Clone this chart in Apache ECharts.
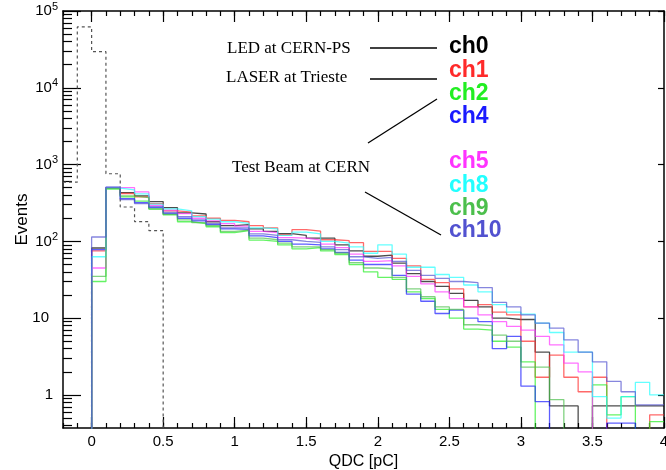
<!DOCTYPE html>
<html>
<head>
<meta charset="utf-8">
<script src="https://cdn.jsdelivr.net/npm/echarts@6/dist/echarts.min.js"></script>
<style>
  html, body { margin: 0; background: #fff; }
  #main { width: 666px; height: 470px; }
</style>
</head>
<body>
<div id="main"></div>
<script>
// histogram binning: 0.1 pC bins from -0.2 to 4.0 pC
var binStart = -0.2
var binWidth = 0.1
var nBins = 42

// events per bin, first value is the bin [-0.2,-0.1]
var pedestal = [590, 62000, 29500, 760, 280, 181, 138]
var ch0 = [0, 0, 82, 495, 430, 392, 330, 275, 235, 227, 180, 160, 165, 145, 135, 126, 120, 110, 110, 90, 75, 64, 66, 52, 38, 30, 26, 21, 17, 14, 10, 9.6, 9.6, 3.6, 0.72, 0.72, 0, 0.72, 0.72, 0.72, 0.72, 0.72]
var ch1 = [0, 0, 75, 490, 420, 380, 310, 250, 240, 215, 200, 188, 180, 160, 150, 122, 142, 136, 105, 102, 96, 74, 74, 60, 48, 32, 29, 24, 14, 15, 12, 11, 5, 1.7, 3.3, 1.7, 1.1, 1.7, 0, 0, 0, 0.55]
var ch2 = [0, 0, 30, 480, 380, 335, 263, 221, 180, 170, 155, 130, 138, 104, 100, 90, 80, 83, 75, 67, 50, 40, 34, 32, 22, 18, 13, 10, 7.2, 7, 5, 4.2, 2.7, 0, 0, 0, 0, 1.35, 0.55, 0.95, 0, 0.45]
var ch4 = [0, 0, 78, 505, 360, 320, 275, 230, 200, 185, 165, 145, 143, 118, 112, 100, 92, 90, 80, 72, 57, 50, 50, 36, 20.5, 16.6, 11.5, 12.7, 10, 9, 4, 5.8, 1.3, 0.82, 0, 0, 0, 0, 0.43, 0.43, 0, 0]
var ch5 = [0, 0, 45, 500, 500, 440, 295, 255, 230, 200, 185, 170, 158, 135, 130, 112, 110, 104, 92, 83, 68, 55, 56, 48, 35, 28, 22, 18, 14, 11, 9, 7.8, 7, 5.8, 4.5, 2.6, 2.0, 0, 0, 0, 0, 0]
var ch8 = [0, 0, 63, 495, 468, 415, 305, 265, 250, 210, 195, 180, 172, 150, 145, 120, 132, 125, 100, 95, 85, 70, 90, 68, 46, 46, 37, 34, 27, 22, 15, 12, 11.3, 8.6, 6.5, 3.6, 3.6, 0.95, 0.5, 0.95, 1.46, 1.0]
var ch9 = [0, 0, 35, 490, 392, 370, 265, 225, 190, 175, 160, 135, 140, 110, 105, 95, 85, 85, 78, 70, 53, 45, 44, 34, 24, 19, 14, 13, 8.2, 8, 6, 5, 2.3, 2.3, 0.87, 0, 0, 0, 0, 0, 0, 0]
var ch10 = [0, 0, 114, 507, 350, 310, 283, 238, 210, 190, 170, 150, 150, 125, 120, 105, 100, 97, 85, 78, 63, 60, 62, 55, 42, 36, 33, 30, 29, 25, 16, 14, 11, 8.6, 7.4, 5.2, 3.6, 2.7, 1.5, 1.1, 0.74, 0.74]

var channelNames = ['ch0', 'ch1', 'ch2', 'ch4', 'ch5', 'ch8', 'ch9', 'ch10']
var channelData = [ch0, ch1, ch2, ch4, ch5, ch8, ch9, ch10]
var channelColors = ['#000000', '#ff2a2a', '#22ee22', '#1a1aff', '#ff33ff', '#22ffff', '#4cbf4c', '#5252d0']

var xTickLabels = [0, 0.5, 1, 1.5, 2, 2.5, 3, 3.5, 4]
var yMajorTicks = [1, 10, 100, 1000, 10000, 100000]
var yMinorTicks = [0.4, 0.5, 0.6, 0.7, 0.8, 0.9]
yMajorTicks.slice(0, 5).forEach(function (d) {
  for (var k = 2; k <= 9; k++) yMinorTicks.push(k * d)
})

var yMin = 0.371
var floorVal = 1e-3

function histPoints (vals) {
  var pts = []
  var v = 0
  for (var i = 0; i < nBins; i++) {
    v = i < vals.length ? vals[i] : 0
    pts.push([+(binStart + i * binWidth).toFixed(2), v > 0 ? v : floorVal])
  }
  pts.push([+(binStart + nBins * binWidth).toFixed(2), v > 0 ? v : floorVal])
  return pts
}

var series = [{
  type: 'line',
  step: 'end',
  symbol: 'none',
  silent: true,
  data: histPoints(pedestal),
  lineStyle: { color: '#555', width: 1.2, type: [3, 3] },
  z: 3
}]
channelData.forEach(function (vals, i) {
  series.push({
    name: channelNames[i],
    type: 'line',
    step: 'end',
    symbol: 'none',
    silent: true,
    data: histPoints(vals),
    lineStyle: { color: channelColors[i], width: 1.3, opacity: 0.7 },
    z: 3
  })
})

var axisCommon = {
  min: binStart,
  max: 4,
  splitLine: { show: false }
}

var labelFont = 'Liberation Sans'
var lineBlack = { color: '#000', width: 1.5 }
var tickBlack = { color: '#000', width: 1.2 }

var option = {
  animation: false,
  backgroundColor: '#ffffff',
  grid: { left: 63, right: 2, top: 11, bottom: 42, containLabel: false, outerBoundsMode: 'none' },
  xAxis: [
    Object.assign({
      type: 'value',
      position: 'bottom',
      interval: 0.1,
      name: 'QDC [pC]',
      nameLocation: 'middle',
      nameGap: 26,
      nameTextStyle: { fontFamily: labelFont, fontSize: 16, color: '#000' },
      axisLine: { show: true, onZero: false, lineStyle: lineBlack },
      axisTick: { inside: true, length: 5, lineStyle: tickBlack },
      axisLabel: {
        customValues: xTickLabels,
        margin: 6,
        fontFamily: labelFont,
        fontSize: 15,
        color: '#000',
        formatter: function (v) { return String(+v.toFixed(1)) }
      }
    }, axisCommon),
    Object.assign({
      type: 'value',
      position: 'bottom',
      axisLine: { show: false, onZero: false },
      axisTick: { inside: true, length: 11, customValues: xTickLabels, lineStyle: tickBlack },
      axisLabel: { show: false }
    }, axisCommon),
    Object.assign({
      type: 'value',
      position: 'top',
      interval: 0.1,
      axisLine: { show: true, onZero: false, lineStyle: lineBlack },
      axisTick: { inside: true, length: 5, lineStyle: tickBlack },
      axisLabel: { show: false }
    }, axisCommon),
    Object.assign({
      type: 'value',
      position: 'top',
      axisLine: { show: false, onZero: false },
      axisTick: { inside: true, length: 11, customValues: xTickLabels, lineStyle: tickBlack },
      axisLabel: { show: false }
    }, axisCommon)
  ],
  yAxis: [
    {
      type: 'log',
      position: 'left',
      min: yMin,
      max: 100000,
      name: 'Events',
      nameLocation: 'middle',
      nameGap: 32,
      nameMoveOverlap: false,
      nameTextStyle: { fontFamily: labelFont, fontSize: 17, color: '#000' },
      splitLine: { show: false },
      axisLine: { show: true, onZero: false, lineStyle: lineBlack },
      axisTick: { inside: true, length: 18, customValues: yMajorTicks, lineStyle: tickBlack },
      axisLabel: {
        customValues: yMajorTicks,
        margin: 5,
        formatter: function (v) {
          var e = Math.round(Math.log10(v))
          if (e === 0) return '{b|1}{p|}'
          if (e === 1) return '{b|10}{q|}'
          return '{b|10}{s|' + e + '}'
        },
        rich: {
          b: { fontFamily: labelFont, fontSize: 15, color: '#000' },
          s: { fontFamily: labelFont, fontSize: 11, color: '#000', padding: [0, 0, 9, 0] },
          p: { width: 5 },
          q: { width: 9 }
        }
      }
    },
    {
      type: 'log',
      position: 'left',
      min: yMin,
      max: 100000,
      splitLine: { show: false },
      axisLine: { show: false, onZero: false },
      axisTick: { inside: true, length: 9, customValues: yMinorTicks, lineStyle: tickBlack },
      axisLabel: { show: false }
    },
    {
      type: 'log',
      position: 'right',
      min: yMin,
      max: 100000,
      splitLine: { show: false },
      axisLine: { show: true, onZero: false, lineStyle: lineBlack },
      axisTick: { inside: true, length: 6, customValues: yMajorTicks, lineStyle: tickBlack },
      axisLabel: { show: false }
    }
  ],
  series: series,
  graphic: [
    { type: 'text', left: 227, top: 40, style: { text: 'LED at CERN-PS', font: '17px "Liberation Serif"', fill: '#000' } },
    { type: 'text', left: 226, top: 69, style: { text: 'LASER at Trieste', font: '17px "Liberation Serif"', fill: '#000' } },
    { type: 'text', left: 232, top: 159, style: { text: 'Test Beam at CERN', font: '17px "Liberation Serif"', fill: '#000' } },
    { type: 'line', shape: { x1: 370, y1: 48, x2: 437, y2: 48 }, style: { stroke: '#000', lineWidth: 1.3 } },
    { type: 'line', shape: { x1: 370, y1: 79, x2: 437, y2: 79 }, style: { stroke: '#000', lineWidth: 1.3 } },
    { type: 'line', shape: { x1: 368, y1: 143, x2: 437, y2: 99 }, style: { stroke: '#000', lineWidth: 1.3 } },
    { type: 'line', shape: { x1: 365, y1: 192, x2: 441, y2: 235 }, style: { stroke: '#000', lineWidth: 1.3 } }
  ].concat(channelNames.map(function (name, i) {
    var ys = [48, 72, 95, 118, 163, 187, 210, 232]
    return {
      type: 'text',
      left: 449,
      top: ys[i] - 13,
      style: { text: name, font: 'bold 23px "Liberation Sans"', fill: channelColors[i] }
    }
  }))
}

var myChart = echarts.init(document.getElementById('main'))
myChart.setOption(option)
</script>
</body>
</html>
